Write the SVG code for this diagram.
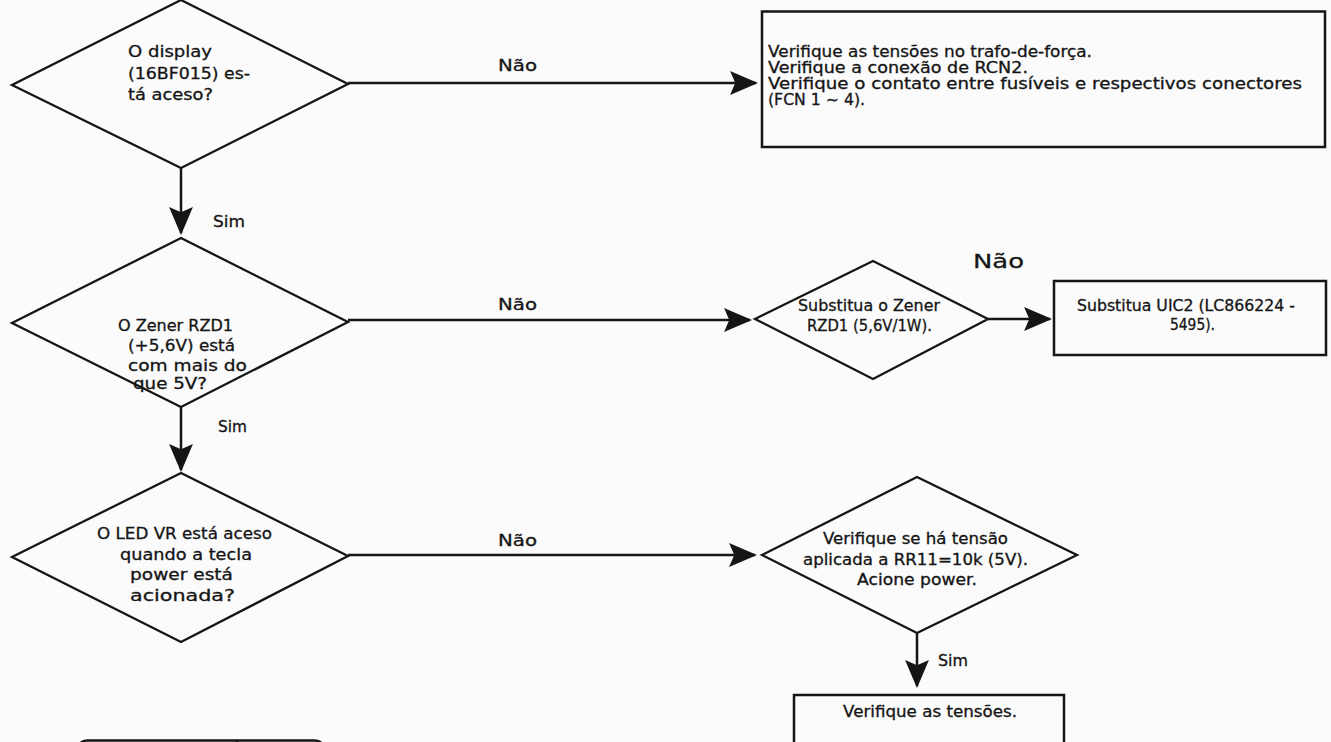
<svg xmlns="http://www.w3.org/2000/svg" width="1331" height="742" viewBox="0 0 1331 742">
  <style>
    .shape { fill: none; stroke: #151515; stroke-width: 2.3; stroke-linejoin: miter; }
    .box { fill: none; stroke: #151515; stroke-width: 2.5; }
    .conn { fill: none; stroke: #151515; stroke-width: 2.5; }
    text { font-family: "DejaVu Sans", "Liberation Sans", sans-serif; font-size: 15px; fill: #151515; stroke: #151515; stroke-width: 0.3; }
    .big { font-size: 20px; }
  </style>
  <defs>
    <marker id="arrow" markerUnits="userSpaceOnUse" markerWidth="28" markerHeight="24" viewBox="0 0 27 23" refX="25" refY="11.5" orient="auto">
      <path d="M0,0 L27,11.5 L0,23 L5,11.5 Z" fill="#151515"/>
    </marker>
  </defs>

  <rect x="0" y="0" width="1331" height="742" fill="#fbfbfb"/>

  <!-- decision: display lit -->
  <g id="q-display">
    <polygon class="shape" points="181,0 348,84 181,168 12,85"/>
    <text x="128" y="57" textLength="84" lengthAdjust="spacingAndGlyphs">O display</text>
    <text x="128" y="79" textLength="122" lengthAdjust="spacingAndGlyphs">(16BF015) es-</text>
    <text x="128" y="100" textLength="85" lengthAdjust="spacingAndGlyphs">tá aceso?</text>
  </g>

  <!-- action: check transformer, RCN2 and fuses -->
  <g id="a-trafo">
    <rect class="box" x="762" y="11.5" width="563" height="135.5"/>
    <text x="768" y="57" textLength="324" lengthAdjust="spacingAndGlyphs">Verifique as tensões no trafo-de-força.</text>
    <text x="768" y="73" textLength="260" lengthAdjust="spacingAndGlyphs">Verifique a conexão de RCN2.</text>
    <text x="768" y="89" textLength="534" lengthAdjust="spacingAndGlyphs">Verifique o contato entre fusíveis e respectivos conectores</text>
    <text x="768" y="105" textLength="97" lengthAdjust="spacingAndGlyphs">(FCN 1 ~ 4).</text>
  </g>

  <!-- decision: zener voltage -->
  <g id="q-zener">
    <polygon class="shape" points="181,238 348,322 181,407 12,323"/>
    <text x="118" y="331" textLength="115" lengthAdjust="spacingAndGlyphs">O Zener RZD1</text>
    <text x="128" y="351" textLength="107" lengthAdjust="spacingAndGlyphs">(+5,6V) está</text>
    <text x="128" y="371" textLength="119" lengthAdjust="spacingAndGlyphs">com mais do</text>
    <text x="133" y="389" textLength="74" lengthAdjust="spacingAndGlyphs">que 5V?</text>
  </g>

  <!-- decision: replace zener -->
  <g id="q-replace-zener">
    <polygon class="shape" points="873,261 988,319 873,379 755,319"/>
    <text x="798" y="311" textLength="142" lengthAdjust="spacingAndGlyphs">Substitua o Zener</text>
    <text x="807" y="331" textLength="125" lengthAdjust="spacingAndGlyphs">RZD1  (5,6V/1W).</text>
  </g>

  <!-- action: replace UIC2 -->
  <g id="a-uic2">
    <rect class="box" x="1054" y="281" width="272" height="74"/>
    <text x="1077" y="311" textLength="218" lengthAdjust="spacingAndGlyphs">Substitua UIC2 (LC866224 -</text>
    <text x="1170" y="330" textLength="45" lengthAdjust="spacingAndGlyphs">5495).</text>
  </g>

  <!-- decision: LED VR lit -->
  <g id="q-led">
    <polygon class="shape" points="181,473 348,556 181,642 12,557"/>
    <text x="97" y="539" textLength="175" lengthAdjust="spacingAndGlyphs">O LED VR está aceso</text>
    <text x="120" y="560" textLength="132" lengthAdjust="spacingAndGlyphs">quando a tecla</text>
    <text x="130" y="580" textLength="103" lengthAdjust="spacingAndGlyphs">power está</text>
    <text x="130" y="601" textLength="105" lengthAdjust="spacingAndGlyphs">acionada?</text>
  </g>

  <!-- decision: voltage at RR11 -->
  <g id="q-rr11">
    <polygon class="shape" points="917,477 1077,555 917,633 762,555"/>
    <text x="823" y="544" textLength="185" lengthAdjust="spacingAndGlyphs">Verifique se há tensão</text>
    <text x="803" y="565" textLength="225" lengthAdjust="spacingAndGlyphs">aplicada a RR11=10k (5V).</text>
    <text x="857" y="585" textLength="120" lengthAdjust="spacingAndGlyphs">Acione power.</text>
  </g>

  <!-- action: check voltages -->
  <g id="a-tensoes">
    <rect class="box" x="794" y="695" width="270" height="60"/>
    <text x="843" y="717" textLength="174" lengthAdjust="spacingAndGlyphs">Verifique as tensões.</text>
  </g>

  <!-- legend frame at page bottom -->
  <g id="legend">
    <rect class="box" x="77" y="740.5" width="248" height="30" rx="10"/>
    <line class="box" x1="237" y1="740" x2="237" y2="742"/>
  </g>

  <!-- connectors -->
  <g id="connectors">
    <line class="conn" x1="181" y1="168" x2="181" y2="233" marker-end="url(#arrow)"/>
    <line class="conn" x1="181" y1="407" x2="181" y2="470" marker-end="url(#arrow)"/>
    <line class="conn" x1="348" y1="83" x2="756" y2="83" marker-end="url(#arrow)"/>
    <line class="conn" x1="348" y1="320" x2="750" y2="320" marker-end="url(#arrow)"/>
    <line class="conn" x1="988" y1="319" x2="1050" y2="319" marker-end="url(#arrow)"/>
    <line class="conn" x1="348" y1="555" x2="755" y2="555" marker-end="url(#arrow)"/>
    <line class="conn" x1="917" y1="633" x2="917" y2="686" marker-end="url(#arrow)"/>

    <text x="498" y="71" textLength="39" lengthAdjust="spacingAndGlyphs">Não</text>
    <text x="213" y="227" textLength="32" lengthAdjust="spacingAndGlyphs">Sim</text>
    <text x="498" y="310" textLength="39" lengthAdjust="spacingAndGlyphs">Não</text>
    <text x="218" y="432" textLength="29" lengthAdjust="spacingAndGlyphs">Sim</text>
    <text class="big" x="973" y="268" textLength="51" lengthAdjust="spacingAndGlyphs">Não</text>
    <text x="498" y="546" textLength="39" lengthAdjust="spacingAndGlyphs">Não</text>
    <text x="938" y="666" textLength="30" lengthAdjust="spacingAndGlyphs">Sim</text>
  </g>
</svg>
